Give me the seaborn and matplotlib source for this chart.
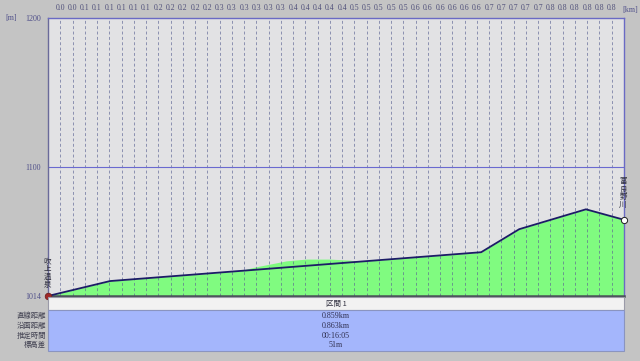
import matplotlib
matplotlib.use("Agg")
import matplotlib.pyplot as plt
import matplotlib.patches as mpatches
import seaborn as sns
import numpy as np
import pandas as pd

# ---- data ----
route_km = [0.0, 0.093, 0.649, 0.706, 0.806, 0.863]
route_m = [1014, 1024.0, 1043.3, 1058.7, 1072.0, 1065.0]

terrain_km = [0.0, 0.093, 0.287, 0.307, 0.332, 0.357, 0.387, 0.422, 0.452, 0.467, 0.649, 0.706, 0.806, 0.863]
terrain_m = [1014, 1024.0, 1030.7, 1033.1, 1035.3, 1037.5, 1038.7, 1038.7, 1038.0, 1037.0, 1043.3, 1058.7, 1072.0, 1065.0]

top_labels = ["0.0", "0.0", "0.1", "0.1", "0.1", "0.1", "0.1", "0.1",
              "0.2", "0.2", "0.2", "0.2", "0.2",
              "0.3", "0.3", "0.3", "0.3", "0.3", "0.3",
              "0.4", "0.4", "0.4", "0.4", "0.4",
              "0.5", "0.5", "0.5", "0.5", "0.5",
              "0.6", "0.6", "0.6", "0.6", "0.6", "0.6",
              "0.7", "0.7", "0.7", "0.7", "0.7",
              "0.8", "0.8", "0.8", "0.8", "0.8", "0.8"]
y_ticks = [1014, 1100, 1200]
start_name = "吹上温泉"
end_name = "富良野川"
section_label = "区間 1"
row_names = ["直線距離", "沿面距離", "推定時間", "標高差"]
row_values = ["0.859km", "0.863km", "00:16:05", "51m"]
total_km = 0.863

# ---- style ----
sns.set_theme(style="white")
plt.rcParams['font.family'] = ['Liberation Serif', 'Noto Sans CJK JP']

W, H = 640, 361
fig = plt.figure(figsize=(W / 100, H / 100), dpi=100, facecolor="#c4c4c4")

def fx(px):
    return px / W

def fy(py):
    return 1 - py / H

CJK = ['Noto Sans CJK JP', 'DejaVu Sans']
L, R, T, B = 48, 624, 18, 296
ax = fig.add_axes([fx(L), fy(B), fx(R - L), fy(T) - fy(B)])
ax.set_facecolor("#e2e2e4")
ax.set_xlim(0, total_km)
ax.set_ylim(1014, 1200)

df_t = pd.DataFrame({"km": terrain_km, "m": terrain_m})
df_r = pd.DataFrame({"km": route_km, "m": route_m})

ax.fill_between(df_t["km"], df_t["m"], 1014, color="#80fb80", lw=0, zorder=1)

# vertical dashed grid lines
n = len(top_labels)
grid_x = [(k + 1) * total_km / (n + 1) for k in range(n)]
for gx in grid_x:
    ax.axvline(gx, color="#5c6494", lw=0.7, ls=(0, (3, 2.5)), alpha=0.65, zorder=2)
ax.axhline(1100, color="#6a6ad0", lw=0.8, zorder=2)

sns.lineplot(data=df_r, x="km", y="m", ax=ax, color="#1c1c66", lw=1.3, zorder=4)

ax.scatter([route_km[0]], [route_m[0]], s=22, color="#a02828", edgecolor="#702020", lw=0.6, zorder=6, clip_on=False)
ax.scatter([route_km[-1]], [route_m[-1]], s=20, color="white", edgecolor="#202020", lw=0.7, zorder=6, clip_on=False)

# ticks
ax.set_yticks(y_ticks)
ax.set_yticklabels([str(v) for v in y_ticks])
ax.xaxis.tick_top()
ax.set_xticks(grid_x)
ax.set_xticklabels(top_labels)
ax.tick_params(axis="x", length=0, pad=4, labelsize=5.6, colors="#50507a")
ax.tick_params(axis="y", length=0, pad=5, labelsize=5.8, colors="#50508a")
ax.set_xlabel("")
ax.set_ylabel("")

for s in ["top", "left", "right"]:
    ax.spines[s].set_color("#6a6ac4")
    ax.spines[s].set_linewidth(1.0)
ax.spines["left"].set_color("#6a6a9a")
ax.spines["bottom"].set_color("#4a5058")
ax.spines["bottom"].set_linewidth(1.8)

fig.text(fx(5), fy(18), "[m]", fontsize=5.8, color="#50508a", va="center", ha="left")
fig.text(fx(638), fy(10), "[km]", fontsize=5.8, color="#50508a", va="center", ha="right")

# vertical place names
fig.text(fx(47), fy(273), "\n".join(start_name), fontsize=5.4, color="#303040",
         ha="center", va="center", linespacing=1.0, family=CJK)
fig.text(fx(623), fy(193), "\n".join(end_name), fontsize=5.4, color="#303040",
         ha="center", va="center", linespacing=1.0, family=CJK)

# table
fig.patches.append(mpatches.Rectangle((fx(L), fy(310)), fx(R - L), fy(297) - fy(310),
                                      transform=fig.transFigure, facecolor="#f2f2f2",
                                      edgecolor="#9a9aa8", lw=0.8))
fig.patches.append(mpatches.Rectangle((fx(L), fy(351)), fx(R - L), fy(310) - fy(351),
                                      transform=fig.transFigure, facecolor="#a4b6fc",
                                      edgecolor="#8a94c0", lw=0.8))
cx = fx((L + R) / 2)
fig.text(cx, fy(304), section_label, fontsize=5.4, color="#303040", ha="center", va="center",
         family=CJK)
row_y = [316, 326, 335.5, 345]
for name, val, yy in zip(row_names, row_values, row_y):
    fig.text(fx(46), fy(yy), name, fontsize=5.3, color="#404050", ha="right", va="center",
             family=CJK)
    fig.text(cx, fy(yy), val, fontsize=5.8, color="#303050", ha="center", va="center")

fig.savefig("out.png", dpi=100, facecolor=fig.get_facecolor())
